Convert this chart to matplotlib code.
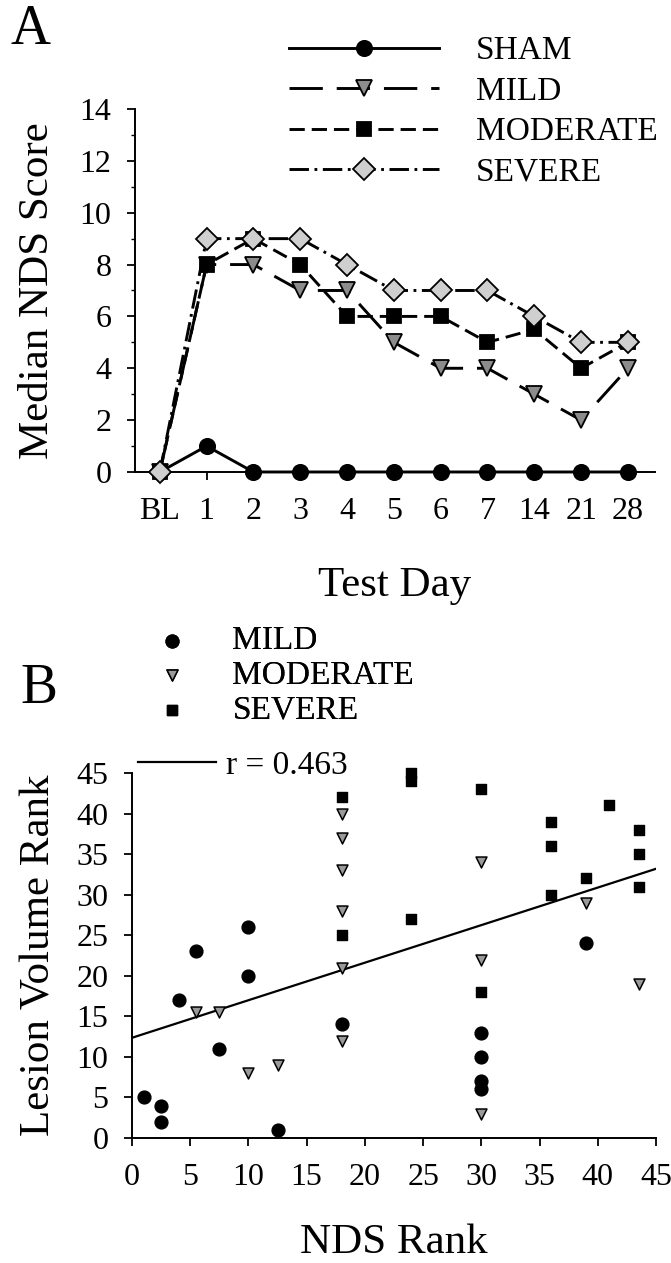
import numpy as np
import matplotlib
matplotlib.use("Agg")
import matplotlib.pyplot as plt
from matplotlib.ticker import MultipleLocator

# ---- Panel A: median neurological deficit score by test day ----
test_days = ["BL", "1", "2", "3", "4", "5", "6", "7", "14", "21", "28"]
sham_nds = [0, 1, 0, 0, 0, 0, 0, 0, 0, 0, 0]
mild_nds = [0, 8, 8, 7, 7, 5, 4, 4, 3, 2, 4]
moderate_nds = [0, 8, 9, 8, 6, 6, 6, 5, 5.5, 4, 5]
severe_nds = [0, 9, 9, 9, 8, 7, 7, 7, 6, 5, 5]

# ---- Panel B: NDS rank vs lesion volume rank ----
mild_x = [1, 2.5, 2.5, 4, 5.5, 7.5, 10, 10, 12.5, 18, 30, 30, 30, 30, 39]
mild_y = [5, 4, 2, 17, 23, 11, 26, 20, 1, 14, 13, 10, 7, 6, 24]
moderate_x = [5.5, 7.5, 10, 12.5, 18, 18, 18, 18, 18, 18, 30, 30, 30, 39, 43.5]
moderate_y = [15.5, 15.5, 8, 9, 40, 37, 33, 28, 21, 12, 34, 22, 3, 29, 19]
severe_x = [18, 18, 24, 24, 24, 30, 30, 36, 36, 36, 39, 41, 43.5, 43.5, 43.5]
severe_y = [42, 25, 45, 44, 27, 43, 18, 39, 36, 30, 32, 41, 38, 35, 31]
r_value = 0.463
n_animals = 45

plt.rcParams["font.family"] = ["Liberation Serif", "DejaVu Serif"]
plt.rcParams["lines.scale_dashes"] = False

fig = plt.figure(figsize=(6.71, 12.63), dpi=100)

tick_fs = 23
label_fs = 31
legend_fs = 24

# ---------------- Panel A ----------------
axA = fig.add_axes([0.2012, 0.6263, 0.775, 0.2874])
xpos = np.arange(len(test_days))

styles = [
    ("SHAM", sham_nds, dict(linestyle="-", marker="o", markerfacecolor="black",
                             markersize=11)),
    ("MILD", mild_nds, dict(dashes=(24, 10), marker="v", markerfacecolor="#8c8c8c",
                             markersize=12)),
    ("MODERATE", moderate_nds, dict(dashes=(11, 5), marker="s", markerfacecolor="black",
                                     markersize=10.5)),
    ("SEVERE", severe_nds, dict(dashes=(14, 4, 2, 4), marker="D", markerfacecolor="#cfcfcf",
                                 markersize=11)),
]
handles = []
for i, (name, vals, kw) in enumerate(styles):
    ln, = axA.plot(xpos, vals, color="black", linewidth=2.1, markeredgecolor="black",
                   markeredgewidth=1.3, label=name, zorder=3 + i, clip_on=False, **kw)
    handles.append(ln)

axA.set_xlim(-0.53, 10.58)
axA.set_ylim(0, 14)
axA.set_xticks(xpos)
axA.set_xticklabels(test_days)
axA.yaxis.set_major_locator(MultipleLocator(2))
axA.yaxis.set_minor_locator(MultipleLocator(1))
for s in ("top", "right"):
    axA.spines[s].set_visible(False)
for s in ("left", "bottom"):
    axA.spines[s].set_linewidth(1.4)
axA.tick_params(axis="both", which="major", direction="out", length=6, width=1.3,
                labelsize=tick_fs)
axA.tick_params(axis="y", which="minor", direction="out", length=3, width=1.0)
axA.tick_params(axis="x", pad=12)
axA.tick_params(axis="y", pad=11)
axA.set_xlabel("Test Day", fontsize=label_fs)
axA.set_ylabel("Median NDS Score", fontsize=label_fs)
axA.xaxis.set_label_coords(0.5, -0.26)
axA.yaxis.set_label_coords(-0.15, 0.5)

fig.legend(handles=handles, loc="upper left", bbox_to_anchor=(0.431, 0.9715),
           frameon=False, fontsize=legend_fs, handlelength=4.5, handletextpad=1.1,
           labelspacing=0.3, borderpad=0, borderaxespad=0, numpoints=1)

fig.text(0.015, 0.9655, "A", fontsize=40, ha="left", va="baseline")

# ---------------- Panel B ----------------
axB = fig.add_axes([0.1967, 0.099, 0.781, 0.289])
sc_mild = axB.scatter(mild_x, mild_y, marker="o", s=85, color="black", zorder=3,
                      clip_on=False)
sc_mod = axB.scatter(moderate_x, moderate_y, marker="v", s=62, facecolor="#9a9a9a",
                     edgecolor="black", linewidth=1.1, zorder=3, clip_on=False)
sc_sev = axB.scatter(severe_x, severe_y, marker="s", s=56, color="black", zorder=3,
                     clip_on=False)

# least-squares line through the ranks: both ranks share the mean (n+1)/2
mean_rank = (n_animals + 1) / 2
fit_x = np.array([0, n_animals])
fit_y = mean_rank + r_value * (fit_x - mean_rank)
fit_ln, = axB.plot(fit_x, fit_y, color="black", linewidth=1.6, zorder=2)

axB.set_xlim(0, 45)
axB.set_ylim(0, 45)
axB.xaxis.set_major_locator(MultipleLocator(5))
axB.yaxis.set_major_locator(MultipleLocator(5))
for s in ("top", "right"):
    axB.spines[s].set_visible(False)
for s in ("left", "bottom"):
    axB.spines[s].set_linewidth(1.4)
axB.tick_params(axis="both", which="major", direction="out", length=6, width=1.3,
                labelsize=tick_fs)
axB.tick_params(axis="x", pad=12)
axB.tick_params(axis="y", pad=11)
axB.set_xlabel("NDS Rank", fontsize=label_fs)
axB.set_ylabel("Lesion Volume Rank", fontsize=label_fs)
axB.xaxis.set_label_coords(0.5, -0.235)
axB.yaxis.set_label_coords(-0.14, 0.5)

leg_pts = fig.legend(handles=[sc_mild, sc_mod, sc_sev],
                     labels=["MILD", "MODERATE", "SEVERE"],
                     loc="upper left", bbox_to_anchor=(0.232, 0.5045), frameon=False,
                     fontsize=legend_fs, handlelength=1.0, handletextpad=1.3,
                     labelspacing=0.12, borderpad=0, borderaxespad=0, scatterpoints=1)
fig.add_artist(leg_pts)
fig.legend(handles=[fit_ln], labels=[f"r = {r_value:.3f}"], loc="upper left",
           bbox_to_anchor=(0.2057, 0.406), frameon=False, fontsize=legend_fs,
           handlelength=2.35, handletextpad=0.3, borderpad=0, borderaxespad=0)

fig.text(0.03, 0.4435, "B", fontsize=40, ha="left", va="baseline")

fig.savefig("out.png", dpi=100)
